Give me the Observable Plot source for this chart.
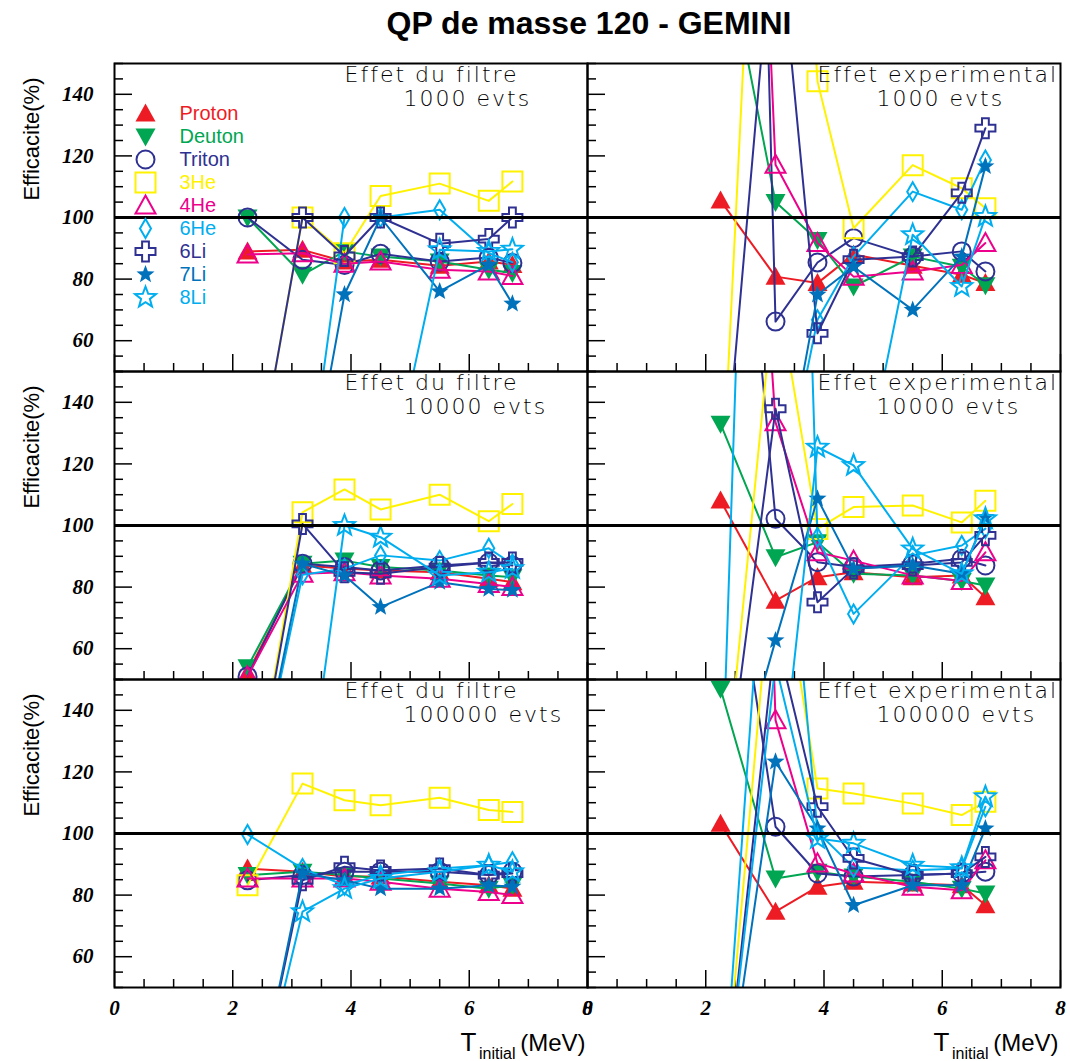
<!DOCTYPE html>
<html>
<head>
<meta charset="utf-8">
<script src="https://cdn.jsdelivr.net/npm/d3@7"></script>
<script src="https://cdn.jsdelivr.net/npm/@observablehq/plot@0.6"></script>
<style>
  html, body { margin: 0; padding: 0; background: #fff; overflow: hidden; }
  #title { height: 45px; box-sizing: border-box; padding-top: 5px; padding-left: 108px; text-align: center;
           font: bold 32px "Liberation Sans", Arial, sans-serif; white-space: nowrap; color: #000; }
  #chart svg { display: block; }
</style>
</head>
<body>
<div id="title">QP de masse 120 - GEMINI</div>
<div id="chart"></div>
<script>
// ---------- data ----------
const energies = [2.25, 3.18, 3.89, 4.5, 5.5, 6.33, 6.73];           // T_initial (MeV)
const species = ["Proton", "Deuton", "Triton", "3He", "4He", "6He", "6Li", "7Li", "8Li"];
const columns = ["filtre", "exp"];
const columnTitles = ["Effet du filtre", "Effet experimental"];
const eventCounts = [1000, 10000, 100000];
const yTickValues = [60, 80, 100, 120, 140];
const xTickValues = [0, 2, 4, 6, 8];

// efficiency (%) per species (rows in species order), per energy
const filtre1000 = [
  [89, 89.5, 85.7, 86.3, 84.3, 85.7, 84.6],
  [100, 81.4, 89, 87.3, 85.7, 83, 82],
  [100, 86.3, 84.6, 88.2, 85.7, 87, 85.2],
  [0, 100, 88.4, 107, 111, 105.4, 111.7],
  [88, 88.4, 85, 85.7, 83, 82.5, 81],
  [0, 0, 100, 100, 102.5, 88.4, 85.5],
  [0, 100, 87.5, 100, 91.5, 93, 100],
  [0, 0, 75, 100, 76, 84.6, 72],
  [0, 0, 0, 0, 89.5, 89, 89.7]
];
const exp1000 = [
  [105.5, 80.8, 78.7, 88, 84.3, 81.4, 78.7],
  [196, 105, 92.7, 77.6, 87.3, 84, 78],
  [740, 66.2, 85.4, 93.3, 87.3, 89, 82.5],
  [0, 362, 144.2, 96.5, 117, 109.5, 103],
  [527, 117.1, 91.7, 80.8, 82.5, 84.6, 91.7],
  [0, 0, 66.8, 87.3, 108.4, 102.5, 118.7],
  [0, 205, 62.4, 86.3, 87.3, 108, 129],
  [0, 0, 74.9, 84, 70, 87.3, 116.6],
  [0, 0, 0, 0, 94.4, 77.6, 100.3]
];
const filtre10000 = [
  [52, 87, 86, 85.4, 84.8, 82.7, 81.6],
  [54, 87.6, 88.6, 86.5, 85.4, 83.8, 83.2],
  [51, 87.6, 86.5, 85.4, 87, 88, 87],
  [0, 104.3, 111.7, 105.2, 110, 101.4, 107],
  [51, 84.3, 84.8, 83.8, 82.7, 81, 80],
  [0, 84, 86, 90.3, 88.6, 92.6, 87.5],
  [0, 100.5, 84.8, 84.3, 86.5, 88, 88],
  [0, 87.6, 83.8, 73.5, 81.6, 79.4, 79],
  [0, 0, 100, 96.2, 83.8, 84.8, 86]
];
const exp10000 = [
  [108.1, 75.6, 83.2, 84.8, 83.2, 83.8, 76.7],
  [133, 89.7, 94.6, 84.3, 83.8, 82, 80.5],
  [296, 102.2, 88.1, 86.5, 87.6, 89.2, 87],
  [0, 180, 98.9, 106, 106.5, 101, 108],
  [400, 133.5, 91.3, 88.6, 83.8, 82, 91.3],
  [0, 540, 96.2, 71.3, 90.3, 93.5, 99],
  [0, 137.9, 75.1, 86, 87, 88, 96.8],
  [0, 62.7, 108.7, 86, 87, 84.3, 102.7],
  [0, 0, 125.4, 119.5, 92.4, 84.3, 102.2]
];
const filtre100000 = [
  [88.6, 87.6, 86, 86, 84.3, 83.2, 82.1],
  [86.5, 87.6, 86.5, 85.4, 83.8, 82.1, 83.2],
  [84.8, 86.5, 87.6, 87.6, 87.6, 86.5, 87.6],
  [83.2, 116.2, 110.8, 109.2, 111.6, 107.6, 107],
  [85.4, 85.4, 85.4, 84.3, 82.1, 81, 80],
  [99.7, 88.6, 83.2, 86.5, 88.6, 89.7, 90.8],
  [0, 84.8, 89.2, 88, 88.6, 86.5, 87],
  [0, 87, 84.8, 82.1, 82.1, 83.2, 82.7],
  [0, 74.6, 82.1, 85.4, 87.6, 89.7, 87.6]
];
const exp100000 = [
  [103.2, 74.6, 82.7, 84.3, 83.8, 83.2, 76.7],
  [147, 85.4, 87.6, 86, 84.3, 82.1, 80.5],
  [221, 102.2, 87, 86, 86.5, 87, 87.6],
  [0, 200, 114.6, 113, 109.7, 106, 110.3],
  [700, 136.8, 90.3, 87, 82.7, 81.6, 91.3],
  [0, 250, 100.5, 89, 88.1, 88.6, 108.7],
  [0, 165, 108.7, 91.9, 86.5, 87, 92.4],
  [0, 123.3, 101.6, 76.7, 83.2, 83.2, 101.6],
  [0, 155, 98.4, 96.8, 89.7, 88.9, 111.9]
];

// ---------- build table ----------
const panels = [
  {col: "filtre", evts: 1000, values: filtre1000},
  {col: "exp", evts: 1000, values: exp1000},
  {col: "filtre", evts: 10000, values: filtre10000},
  {col: "exp", evts: 10000, values: exp10000},
  {col: "filtre", evts: 100000, values: filtre100000},
  {col: "exp", evts: 100000, values: exp100000}
];
const rows = panels.flatMap(p => p.values.flatMap((vals, si) =>
  vals.map((v, i) => ({col: p.col, evts: p.evts, species: species[si], x: energies[i], y: v}))));

// ---------- styles ----------
const colors = ["#ed1c24", "#00a651", "#2e3192", "#fff200", "#ec008c", "#00aeef", "#2e3192", "#0072bc", "#00aeef"];
const R = size => Math.sqrt(size / Math.PI);
const triUp = {draw(c, s) { const r = R(s); c.moveTo(0, -r); c.lineTo(r, 0.8 * r); c.lineTo(-r, 0.8 * r); c.closePath(); }};
const triDown = {draw(c, s) { const r = R(s); c.moveTo(0, r); c.lineTo(r, -0.8 * r); c.lineTo(-r, -0.8 * r); c.closePath(); }};
const circ = {draw(c, s) { const r = R(s); c.moveTo(r, 0); c.arc(0, 0, r, 0, 2 * Math.PI); c.closePath(); }};
const sq = {draw(c, s) { const r = R(s); c.rect(-r, -r, 2 * r, 2 * r); }};
const diam = {draw(c, s) { const r = R(s); c.moveTo(0, -r); c.lineTo(0.58 * r, 0); c.lineTo(0, r); c.lineTo(-0.58 * r, 0); c.closePath(); }};
const plus = {draw(c, s) { const r = R(s), a = r * 0.34;
  const p = [[-a,-r],[a,-r],[a,-a],[r,-a],[r,a],[a,a],[a,r],[-a,r],[-a,a],[-r,a],[-r,-a],[-a,-a]];
  c.moveTo(...p[0]); for (const q of p.slice(1)) c.lineTo(...q); c.closePath(); }};
const star = {draw(c, s) { const r = R(s), ri = r * 0.42;
  for (let k = 0; k < 10; k++) { const a = -Math.PI / 2 + k * Math.PI / 5, rr = k % 2 ? ri : r;
    const X = rr * Math.cos(a), Y = rr * Math.sin(a); k ? c.lineTo(X, Y) : c.moveTo(X, Y); }
  c.closePath(); }};
const markers = [
  {symbol: triUp, r: 10, filled: true},
  {symbol: triDown, r: 10, filled: true},
  {symbol: circ, r: 9, filled: false},
  {symbol: sq, r: 10, filled: false},
  {symbol: triUp, r: 10, filled: false},
  {symbol: diam, r: 9.5, filled: false},
  {symbol: plus, r: 10, filled: false},
  {symbol: star, r: 9.5, filled: true},
  {symbol: star, r: 11, filled: false}
];
const dotStyle = i => markers[i].filled
  ? {symbol: markers[i].symbol, r: markers[i].r, fill: colors[i], stroke: "none"}
  : {symbol: markers[i].symbol, r: markers[i].r, fill: "none", stroke: colors[i], strokeWidth: 2};

// ---------- marks ----------
const seriesMarks = species.flatMap((s, i) => {
  const d = rows.filter(r => r.species === s);
  return [
    Plot.line(d, {x: "x", y: "y", fx: "col", fy: "evts", stroke: colors[i], strokeWidth: 2, clip: true}),
    Plot.dot(d, {x: "x", y: "y", fx: "col", fy: "evts", clip: true, ...dotStyle(i)})
  ];
});

const legendCell = [{col: "filtre", evts: 1000}];
const legendMarks = species.flatMap((s, i) => [
  Plot.dot(legendCell, {fx: "col", fy: "evts", frameAnchor: "top-left", dx: 31, dy: 50 + 23 * i, ...dotStyle(i)}),
  Plot.text(legendCell, {fx: "col", fy: "evts", frameAnchor: "top-left", dx: 65, dy: 50 + 23 * i, text: () => s,
    fill: colors[i], fontSize: 20, fontFamily: "Liberation Sans, Arial", textAnchor: "start", lineAnchor: "middle"})
]);

const annot = panels.map(p => ({col: p.col, evts: p.evts, t1: columnTitles[columns.indexOf(p.col)], t2: `${p.evts} evts`}));
const leftCells = eventCounts.map(e => ({col: "filtre", evts: e}));
const bottomCells = columns.map(c => ({col: c, evts: 100000}));

const tickFont = {fontSize: 21, fontWeight: "bold", fontStyle: "italic", fontFamily: "Liberation Serif, Times New Roman, serif"};

const chart = Plot.plot({
  width: 1070,
  height: 1016,
  marginLeft: 113,
  marginRight: 10,
  marginTop: 17,
  marginBottom: 74,
  style: {background: "#fff", color: "#000"},
  x: {domain: [0, 8], axis: null},
  y: {domain: [50, 150], axis: null},
  fx: {domain: columns, padding: 0, axis: null},
  fy: {domain: eventCounts, padding: 0, axis: null},
  marks: [
    // ticks
    Plot.axisY({ticks: d3.range(50, 151, 5).filter(v => v % 20 !== 0), anchor: "left", tickSize: -9, fill: "none", facetAnchor: null, label: null, strokeWidth: 1.5}),
    Plot.axisY({ticks: yTickValues, anchor: "left", tickSize: -18, fill: "none", facetAnchor: null, label: null, strokeWidth: 1.5}),
    Plot.axisX({ticks: d3.range(0.5, 8, 0.5).filter(v => v % 2 !== 0), anchor: "bottom", tickSize: -8, fill: "none", facetAnchor: null, label: null, strokeWidth: 1.5}),
    Plot.axisX({ticks: xTickValues, anchor: "bottom", tickSize: -17, fill: "none", facetAnchor: null, label: null, strokeWidth: 1.5}),
    // tick labels
    Plot.axisY({ticks: yTickValues, anchor: "left", tickSize: 0, tickPadding: 21, label: null, ...tickFont}),
    Plot.axisX({ticks: xTickValues, anchor: "bottom", tickSize: 0, tickPadding: 13, label: null, ...tickFont}),
    // data
    ...seriesMarks,
    Plot.ruleY([100], {stroke: "#000", strokeWidth: 3}),
    Plot.frame({stroke: "#000", strokeWidth: 2}),
    // legend
    ...legendMarks,
    // annotations
    Plot.text(annot, {fx: "col", fy: "evts", frameAnchor: "top-left", dx: 230, dy: 18, text: "t1", textAnchor: "start", lineAnchor: "bottom",
      fontSize: 22, fontWeight: 200, fontFamily: "DejaVu Sans", fill: "#000"}),
    Plot.text(annot, {fx: "col", fy: "evts", frameAnchor: "top-left", dx: 289, dy: 42, text: "t2", textAnchor: "start", lineAnchor: "bottom",
      fontSize: 22, fontWeight: 200, fontFamily: "DejaVu Sans", fill: "#000"}),
    // y titles
    Plot.text(leftCells, {fx: "col", fy: "evts", frameAnchor: "top-left", dx: -83, dy: 14, rotate: -90, text: () => "Efficacite(%)",
      textAnchor: "end", lineAnchor: "middle", fontSize: 22, fontFamily: "Liberation Sans, Arial"}),
    // x titles
    Plot.text(bottomCells, {fx: "col", fy: "evts", frameAnchor: "bottom-right", dx: -2, dy: 63, text: () => "(MeV)",
      textAnchor: "end", lineAnchor: "bottom", fontSize: 24, fontFamily: "Liberation Sans, Arial"}),
    Plot.text(bottomCells, {fx: "col", fy: "evts", frameAnchor: "bottom-right", dx: -72, dy: 71, text: () => "initial",
      textAnchor: "end", lineAnchor: "bottom", fontSize: 16, fontFamily: "Liberation Sans, Arial"}),
    Plot.text(bottomCells, {fx: "col", fy: "evts", frameAnchor: "bottom-right", dx: -111, dy: 63, text: () => "T",
      textAnchor: "end", lineAnchor: "bottom", fontSize: 26, fontFamily: "Liberation Sans, Arial"})
  ]
});
// widen the thin panel annotations like the original's spaced lettering
const annotTexts = new Set(annot.flatMap(a => [a.t1, a.t2]));
chart.querySelectorAll("text").forEach(t => {
  if (annotTexts.has(t.textContent)) t.style.letterSpacing = "2px";
});
document.getElementById("chart").appendChild(chart);
</script>
</body>
</html>
